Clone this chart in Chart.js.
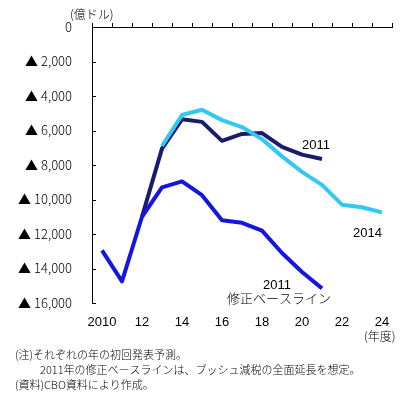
<!DOCTYPE html>
<html>
<head>
<meta charset="utf-8">
<title>CBO</title>
<script src="https://cdn.jsdelivr.net/npm/chart.js@4.4.0/dist/chart.umd.min.js"></script>
<style>
  body { margin: 0; background: #fff; }
  .box { position: relative; width: 411px; height: 396px; }
</style>
</head>
<body>
<div class="box"><canvas id="Chart1"></canvas></div>

<script>
  // 年度
  var years = ['2010','2011','2012','2013','2014','2015','2016','2017','2018','2019','2020','2021','2022','2023','2024'];
  // 2011年修正ベースライン
  var revised2011 = [12950, 14750, 11000, 9300, 8950, 9750, 11200, 11350, 11800, 13100, 14200, 15150, null, null, null];
  // 2014年
  var base2014 = [null, null, null, 6900, 5100, 4800, 5400, 5800, 6500, 7500, 8400, 9150, 10300, 10450, 10750];
  // 2011年
  var base2011 = [null, null, 11000, 7050, 5350, 5500, 6600, 6200, 6150, 6950, 7400, 7650, null, null, null];

  var yTicks = [0, 2000, 4000, 6000, 8000, 10000, 12000, 14000, 16000];

  var FONT = '"Liberation Sans", "Noto Sans CJK JP", sans-serif';
  var JFONT = '"Noto Sans CJK JP", sans-serif';

  // 文字と内向きの目盛り
  var extras = {
    id: 'extras',
    afterDraw: function (chart) {
      var c = chart.ctx;
      var y = chart.scales.y;
      var area = chart.chartArea;
      c.save();
      c.strokeStyle = '#000';
      c.lineWidth = 1;
      yTicks.forEach(function (v) {
        var py = Math.round(y.getPixelForValue(v)) + 0.5;
        c.beginPath();
        c.moveTo(area.left, py);
        c.lineTo(area.left + 4, py);
        c.stroke();
      });

      c.fillStyle = '#000';
      c.textBaseline = 'middle';
      c.textAlign = 'left';
      c.font = '300 12px ' + JFONT;
      c.fillText('(億ドル)', 70, 14);
      c.fillText('(年度)', 364, 336);

      c.font = '13px ' + FONT;
      c.fillText('2011', 302, 145);
      c.fillText('2014', 353, 233);
      c.fillText('2011', 263, 285);
      c.font = '300 13px ' + JFONT;
      c.fillText('修正ベースライン', 227, 298);

      c.font = '300 11px ' + JFONT;
      c.fillText('(注)それぞれの年の初回発表予測。', 15, 355);
      c.fillText('2011年の修正ベースラインは、ブッシュ減税の全面延長を想定。', 40, 370);
      c.fillText('(資料)CBO資料により作成。', 15, 385);
      c.restore();
    }
  };

  var ctx1 = document.getElementById('Chart1');
  var Chart1 = new Chart(ctx1, {
    type: 'line',
    data: {
      labels: years,
      datasets: [{
        label: '2011 修正ベースライン',
        data: revised2011,
        borderColor: '#1515e0',
        order: 0
      }, {
        label: '2014',
        data: base2014,
        borderColor: '#33c8f2',
        order: 1
      }, {
        label: '2011',
        data: base2011,
        borderColor: '#1b1b6e',
        order: 2
      }]
    },
    options: {
      responsive: true,
      maintainAspectRatio: false,
      animation: false,
      layout: { padding: { left: 0, right: 19, top: 0, bottom: 0 } },
      elements: {
        line: { borderWidth: 4, tension: 0, borderCapStyle: 'butt', borderJoinStyle: 'round' },
        point: { radius: 0 }
      },
      plugins: { legend: { display: false }, tooltip: { enabled: false } },
      scales: {
        x: {
          type: 'category',
          position: 'bottom',
          offset: true,
          border: { display: false },
          grid: { display: false },
          ticks: {
            autoSkip: false,
            maxRotation: 0,
            padding: 4,
            color: '#000',
            font: { family: FONT, size: 13 },
            callback: function (v, i) {
              if (i % 2) return '';
              return i === 0 ? years[i] : years[i].slice(2);
            }
          },
          afterFit: function (s) { s.height = 93; }
        },
        x2: {
          type: 'category',
          position: 'top',
          labels: years,
          offset: true,
          border: { display: true, color: '#000', width: 1 },
          grid: { drawOnChartArea: false, drawTicks: true, tickLength: 4, color: '#000', offset: true },
          ticks: { display: false },
          afterFit: function (s) { s.height = 27; }
        },
        y: {
          reverse: true,
          min: 0,
          max: 16000,
          border: { display: true, color: '#000', width: 1 },
          grid: { display: false },
          ticks: {
            stepSize: 2000,
            padding: 12,
            color: '#000',
            font: { family: JFONT, size: 13, weight: '300' },
            callback: function (v) {
              return v === 0 ? '0' : '▲ ' + v.toLocaleString('en-US');
            }
          },
          afterFit: function (s) { s.width = 92; }
        }
      }
    },
    plugins: [extras]
  });
</script>
</body>
</html>
